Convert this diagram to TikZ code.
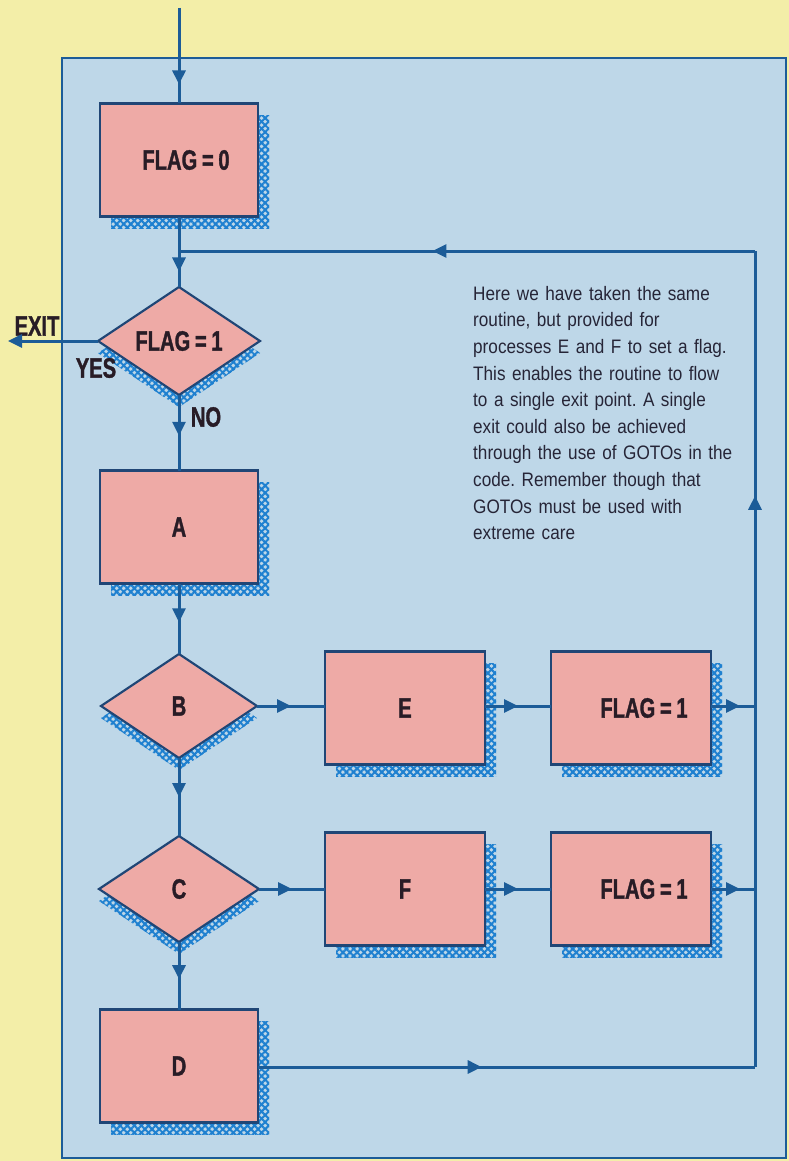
\documentclass[tikz,border=0pt]{standalone}
\usepackage{fontspec}
\setmainfont{Liberation Sans}
\newfontfamily\labelfont[FakeStretch=0.72,BoldFeatures={FakeBold=1.2}]{Liberation Sans}
\newfontfamily\notefont[FakeStretch=0.88]{Liberation Sans}
\usetikzlibrary{shapes.geometric,arrows.meta,decorations.markings,patterns.meta,positioning}
\definecolor{yellowbg}{RGB}{243,238,168}
\definecolor{panelblue}{RGB}{190,215,232}
\definecolor{pinkfill}{RGB}{238,170,166}
\definecolor{lineblue}{RGB}{28,92,152}
\definecolor{edgeblue}{RGB}{32,70,118}
\definecolor{hatchblue}{RGB}{30,128,208}
\definecolor{inkdark}{RGB}{40,28,38}
\tikzset{
  hatch/.style 2 args={
    preaction={draw=none,pattern={Lines[angle=45,distance=5pt,line width=2pt]},pattern color=hatchblue,transform canvas={shift={(#1,#2)}}},
    preaction={draw=none,pattern={Lines[angle=-45,distance=5pt,line width=2pt]},pattern color=hatchblue,transform canvas={shift={(#1,#2)}}}},
  process/.style={draw=edgeblue,line width=2.2pt,fill=pinkfill,inner sep=0pt,outer sep=0pt,
    minimum width=158pt,minimum height=113pt,hatch={11pt}{-12pt},
    font=\labelfont\bfseries\fontsize{28}{28}\selectfont,text=inkdark},
  decision/.style={diamond,draw=edgeblue,line width=2.2pt,fill=pinkfill,inner sep=0pt,outer sep=0pt,
    minimum width=160pt,minimum height=106pt,hatch={0pt}{-12pt},
    font=\labelfont\bfseries\fontsize{28}{28}\selectfont,text=inkdark},
  tag/.style={font=\labelfont\bfseries\fontsize{28}{28}\selectfont,text=inkdark,inner sep=0pt},
  line/.style={draw=lineblue,line width=3pt},
  flow/.style={line,postaction={decorate},
    decoration={markings,mark=at position #1 with {\arrow{Triangle[length=14pt,width=13pt]}}}},
  flow/.default=0.5
}
\begin{document}
\begin{tikzpicture}[x=1pt,y=-1pt]
  \useasboundingbox (0,0) rectangle (789,1161);
  \fill[yellowbg] (0,0) rectangle (789,1161);
  \draw[fill=panelblue,draw=lineblue,line width=2.2pt] (62,58) rectangle (786,1158);

  % left column
  \node[process] (flagzero) at (179,160) {\hspace*{14pt}FLAG\,=\,0};
  \node[decision,minimum width=162pt,minimum height=108pt] (testflag) at (179,341) {FLAG\,=\,1};
  \node[process] (procA) at (179,527) {A};
  \node[decision,minimum width=156pt,minimum height=104pt] (testB) at (179,706) {B};
  \node[decision] (testC) at (179,889) {C};
  \node[process] (procD) at (179,1066) {D};

  % right hand rows
  \node[process,minimum width=160pt] (procE) at (405,708) {E};
  \node[process,minimum width=160pt] (setflagB) at (631,708) {\hspace*{26pt}FLAG\,=\,1};
  \node[process,minimum width=160pt] (procF) at (405,889) {F};
  \node[process,minimum width=160pt] (setflagC) at (631,889) {\hspace*{26pt}FLAG\,=\,1};

  \node[tag] (exitlabel) at (37,326) {EXIT};
  \node[tag] (yeslabel) at (96,368) {YES};
  \node[tag] (nolabel) at (206,417) {NO};

  \node[anchor=north west,inner sep=0pt,text width=280pt,align=left,text=inkdark!85!lineblue,
    font=\notefont\fontsize{19.5}{26.6}\selectfont\frenchspacing] (note) at (473,286)
    {Here we have taken the same\\ routine, but provided for\\ processes E and F to set a flag.\\
     This enables the routine to flow\\ to a single exit point. A single\\ exit could also be achieved\\
     through the use of GOTOs in the\\ code. Remember though that\\ GOTOs must be used with\\
     extreme care};

  \coordinate (entry) at (179,8);
  \coordinate (exitpt) at (8,341);
  \coordinate (loopD) at (755,1067);
  \coordinate (loopTop) at (755,251);
  \coordinate (joinTop) at (179,251);

  % connectors
  \draw[flow=0.8] (entry) -- (flagzero.north);
  \draw[flow=0.78] (flagzero.south) -- (testflag.north);
  \draw[line,-{Triangle[length=14pt,width=13pt]}] (testflag.west) -- (exitpt);
  \draw[flow=0.54] (testflag.south) -- (procA.north);
  \draw[flow=0.55] (procA.south) -- (testB.north);
  \draw[flow=0.5] (testB.south) -- (testC.north);
  \draw[flow=0.55] (testC.south) -- (procD.north);
  \draw[flow=0.5] (testB.east) -- (procE.west |- testB.east);
  \draw[flow=0.5] (procE.east |- testB.east) -- (setflagB.west |- testB.east);
  \draw[flow=0.66] (setflagB.east |- testB.east) -- (loopD |- testB.east);
  \draw[flow=0.5] (testC.east) -- (procF.west |- testC.east);
  \draw[flow=0.5] (procF.east |- testC.east) -- (setflagC.west |- testC.east);
  \draw[flow=0.66] (setflagC.east |- testC.east) -- (loopD |- testC.east);
  \draw[flow=0.45] (procD.east |- loopD) -- (loopD);
  \draw[flow=0.7] (loopD) -- (loopTop);
  \draw[flow=0.56] (loopTop) -- (joinTop);
\end{tikzpicture}
\end{document}
